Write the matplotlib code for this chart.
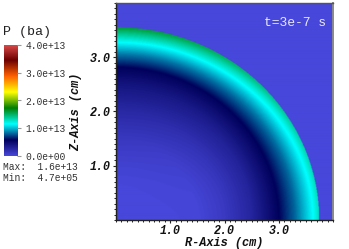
import numpy as np
import matplotlib
matplotlib.use("Agg")
import matplotlib.pyplot as plt
from matplotlib.colors import LinearSegmentedColormap, Normalize
from matplotlib.ticker import MultipleLocator, FixedLocator

# Pressure profiles (units of 1e13 ba)
r_axis_cm = [0.0, 1.5, 2.0, 2.5, 3.0, 3.3, 3.63, 3.75]
r_axis_p = [0.0, 0.02, 0.12, 0.28, 0.57, 0.80, 1.14, 1.30]
z_axis_cm = [0.0, 0.5, 1.0, 1.5, 2.0, 2.5, 2.8, 3.05, 3.26, 3.45, 3.54]
z_axis_p = [0.0, 0.0, 0.05, 0.13, 0.25, 0.42, 0.57, 0.85, 1.14, 1.45, 1.60]

cbar_ticks = [0.0, 1.0, 2.0, 3.0, 4.0]
cbar_labels = ["0.0e+00", "1.0e+13", "2.0e+13", "3.0e+13", "4.0e+13"]
axis_ticks = [1.0, 2.0, 3.0]
axis_tick_labels = ["1.0", "2.0", "3.0"]
cmap_colors = ["#4747db", "#00005b", "#00ffff", "#007f00", "#ffff00",
               "#ff6000", "#6b0000", "#e04c4c"]

W, H = 349, 249
cmap = LinearSegmentedColormap.from_list("hot_desat", cmap_colors, N=256)
norm = Normalize(0, 4)
mono = "Liberation Mono"

fig = plt.figure(figsize=(W / 100, H / 100), dpi=100, facecolor="white")


def box(x0, y0, x1, y1):
    return [x0 / W, 1 - y1 / H, (x1 - x0) / W, (y1 - y0) / H]


ax = fig.add_axes(box(116, 3, 333, 220))
x = np.linspace(0, 4, 434)
X, Z = np.meshgrid(x, x)
Rr, Rz = r_axis_cm[-1], z_axis_cm[-1]
theta = np.arctan2(Z, X)
front = 1 / np.sqrt((np.cos(theta) / Rr) ** 2 + (np.sin(theta) / Rz) ** 2)
s = np.hypot(X, Z) / front
w = np.sin(theta) ** 2
P = (1 - w) * np.interp(s, np.array(r_axis_cm) / Rr, r_axis_p, right=0.0) \
    + w * np.interp(s, np.array(z_axis_cm) / Rz, z_axis_p, right=0.0)
ax.imshow(P, origin="lower", extent=[0, 4, 0, 4], cmap=cmap, norm=norm,
          aspect="auto", interpolation="bilinear")
ax.set_xlim(0, 4)
ax.set_ylim(0, 4)
for side in ax.spines.values():
    side.set_linewidth(1.0)
    side.set_color("#222222")
ax.spines["right"].set_color("#8a8a8a")
ax.spines["right"].set_linewidth(1.4)
ax.spines["top"].set_color("#555555")
for a in (ax.xaxis, ax.yaxis):
    a.set_major_locator(FixedLocator(axis_ticks))
    a.set_minor_locator(MultipleLocator(0.1))
ax.set_xticklabels(axis_tick_labels)
ax.set_yticklabels(axis_tick_labels)
ax.tick_params(which="major", length=2.4, width=0.8, color="#222222", pad=1.5)
ax.tick_params(which="minor", length=1.2, width=0.7, color="#222222")
for t in ax.get_xticklabels() + ax.get_yticklabels():
    t.set_fontfamily(mono)
    t.set_fontweight("bold")
    t.set_fontstyle("italic")
    t.set_fontsize(8.4)
    t.set_color("#111111")


def txt(px, py, s, **kw):
    kw.setdefault("family", mono)
    kw.setdefault("va", "center")
    return fig.text(px / W, 1 - py / H, s, **kw)


txt(295, 23, "t=3e-7 s", fontsize=9.4, color="#e8e8f5", ha="center")
txt(224, 243, "R-Axis (cm)", fontsize=8.6, weight="bold", style="italic",
    ha="center", color="#111111")
txt(76, 112, "Z-Axis (cm)", fontsize=8.6, weight="bold", style="italic",
    ha="center", rotation=90, color="#111111")
txt(3, 32, "P (ba)", fontsize=9.6, color="#222222")

cax = fig.add_axes(box(3.5, 45, 17, 156))
grad = np.linspace(0, 4, 256).reshape(-1, 1)
cax.imshow(grad, origin="lower", extent=[0, 1, 0, 4], cmap=cmap, norm=norm,
           aspect="auto")
cax.set_xticks([])
cax.yaxis.tick_right()
cax.set_yticks(cbar_ticks)
cax.set_yticklabels(cbar_labels, fontfamily=mono, fontsize=6.9, color="#333333")
cax.tick_params(length=3, width=0.8, color="#999999", pad=3)
for side in cax.spines.values():
    side.set_visible(False)

txt(3, 167, "Max:  1.6e+13", fontsize=6.9, color="#333333")
txt(3, 178, "Min:  4.7e+05", fontsize=6.9, color="#333333")

fig.savefig("out.png", dpi=100)
